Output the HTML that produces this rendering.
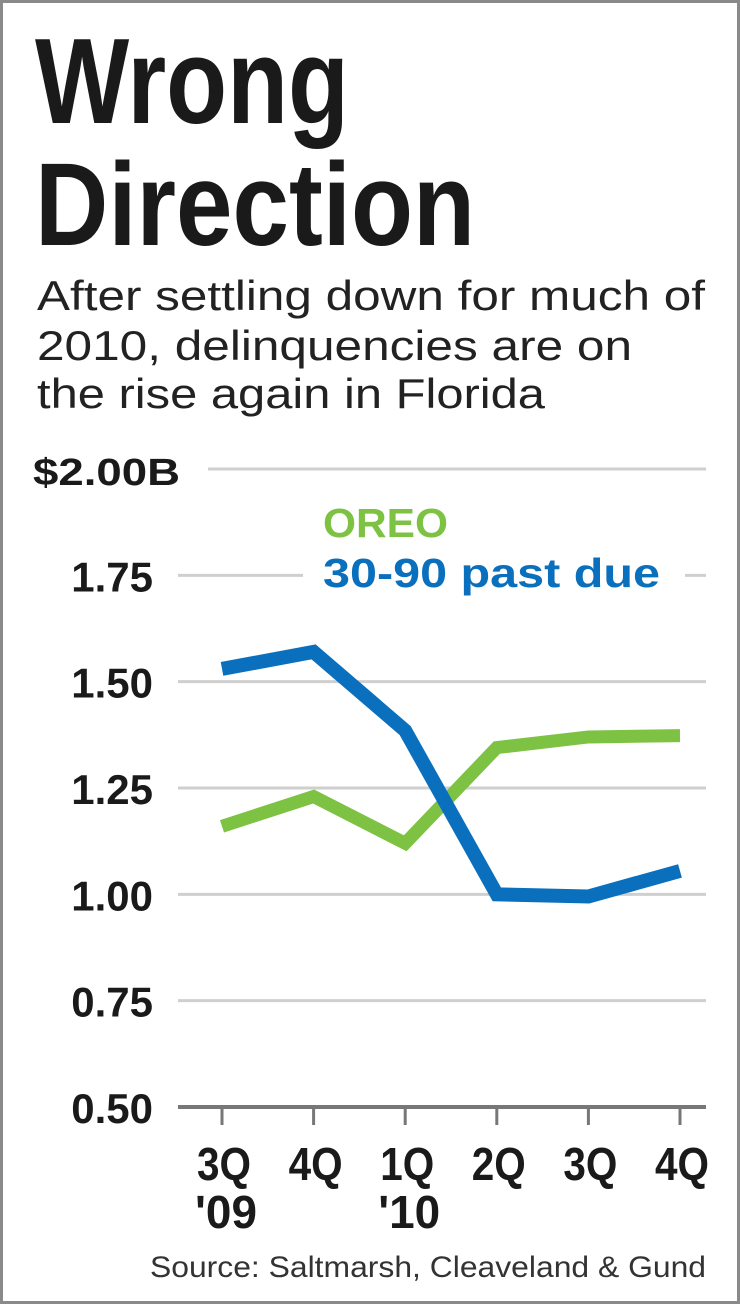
<!DOCTYPE html>
<html><head><meta charset="utf-8"><style>
html,body{margin:0;padding:0;background:#fff}
svg{display:block;font-family:"Liberation Sans",sans-serif}
</style></head><body>
<svg id="chart" width="740" height="1304" viewBox="0 0 740 1304" xmlns="http://www.w3.org/2000/svg">
<rect x="1.5" y="1.5" width="737" height="1301" fill="#fff" stroke="#8a8a8a" stroke-width="3"/>
<text x="35" y="123" font-size="122" font-weight="bold" fill="#1a1a1a" textLength="314" lengthAdjust="spacingAndGlyphs">Wrong</text>
<text x="35" y="245" font-size="118" font-weight="bold" fill="#1a1a1a" textLength="440" lengthAdjust="spacingAndGlyphs">Direction</text>
<g font-size="42" fill="#222">
<text x="37" y="310" textLength="668" lengthAdjust="spacingAndGlyphs">After settling down for much of</text>
<text x="37" y="360" textLength="595" lengthAdjust="spacingAndGlyphs">2010, delinquencies are on</text>
<text x="37" y="408" textLength="508" lengthAdjust="spacingAndGlyphs">the rise again in Florida</text>
</g>
<g id="grid"></g>
<g id="yaxis"></g>
<g id="xaxis"></g>
<g id="series"></g>
<rect x="303" y="560" width="382" height="34" fill="#fff"/>
<text x="323" y="537" font-size="41" font-weight="bold" fill="#7dc242" textLength="125" lengthAdjust="spacingAndGlyphs">OREO</text>
<text x="323" y="587" font-size="41" font-weight="bold" fill="#0a6fbd" textLength="337" lengthAdjust="spacingAndGlyphs">30-90 past due</text>
<text x="150" y="1277" font-size="30" fill="#333" textLength="556" lengthAdjust="spacingAndGlyphs">Source: Saltmarsh, Cleaveland &amp; Gund</text>
</svg>
<script>
const quarters = ["3Q", "4Q", "1Q", "2Q", "3Q", "4Q"];
const years = ["'09", "", "'10", "", "", ""];
const oreo = [1.16, 1.23, 1.12, 1.345, 1.37, 1.373];
const pastDue = [1.53, 1.57, 1.385, 1.0, 0.995, 1.055];
const yTicks = [2.0, 1.75, 1.5, 1.25, 1.0, 0.75, 0.5];
const yTickLabels = ["$2.00B", "1.75", "1.50", "1.25", "1.00", "0.75", "0.50"];

const NS = "http://www.w3.org/2000/svg";
const yMin = 0.5, yMax = 2.0, yTop = 469, yBot = 1107;
const xFirst = 222, xLast = 680;
function yScale(v){ return yBot - (v - yMin) / (yMax - yMin) * (yBot - yTop); }
function xScale(i){ return xFirst + i * (xLast - xFirst) / (quarters.length - 1); }
function mk(tag, attrs, parent){
  const e = document.createElementNS(NS, tag);
  for (const k in attrs) e.setAttribute(k, attrs[k]);
  parent.appendChild(e);
  return e;
}
const grid = document.getElementById("grid");
const yaxis = document.getElementById("yaxis");
const xaxis = document.getElementById("xaxis");
const series = document.getElementById("series");

yTicks.forEach((v, i) => {
  const y = yScale(v);
  const isBase = i === yTicks.length - 1;
  const x1 = i === 0 ? 208 : 178;
  const g = mk("line", {x1: x1, x2: 706, y1: y, y2: y, stroke: isBase ? "#777" : "#cfcfcf", "stroke-width": isBase ? 4 : 3}, grid);
  
  
  const t = mk("text", {x: i === 0 ? 33 : 153, y: y + 16, "font-size": 42, "font-weight": "bold", fill: "#1a1a1a", "text-anchor": i === 0 ? "start" : "end"}, yaxis);
  if (i === 0) { t.setAttribute("textLength", 147); t.setAttribute("lengthAdjust", "spacingAndGlyphs"); t.setAttribute("font-size", 38); }
  t.textContent = yTickLabels[i];
  
  
});

quarters.forEach((q, i) => {
  const x = xScale(i);
  const tk = mk("line", {x1: x, x2: x, y1: yBot, y2: yBot + 18, stroke: "#777", "stroke-width": 3}, xaxis);
  
  
  const t = mk("text", {x: x + 2, y: 1180, "font-size": 46, "font-weight": "bold", fill: "#1a1a1a", "text-anchor": "middle", textLength: 54, lengthAdjust: "spacingAndGlyphs"}, xaxis);
  t.textContent = q;
  
  
  if (years[i]) {
    const yt = mk("text", {x: x + 4, y: 1228, "font-size": 46, "font-weight": "bold", fill: "#1a1a1a", "text-anchor": "middle", textLength: 62, lengthAdjust: "spacingAndGlyphs"}, xaxis);
    yt.textContent = years[i];
    
    
  }
});

function drawLine(vals, color, w, name){
  const pts = vals.map((v, i) => xScale(i) + "," + yScale(v)).join(" ");
  const p = mk("polyline", {points: pts, fill: "none", stroke: color, "stroke-width": w, "stroke-linejoin": "miter", "stroke-linecap": "butt"}, series);
  
  
}
drawLine(oreo, "#7dc242", 13, "oreo-line");
drawLine(pastDue, "#0a6fbd", 14, "past-due-line");
</script>
</body></html>
